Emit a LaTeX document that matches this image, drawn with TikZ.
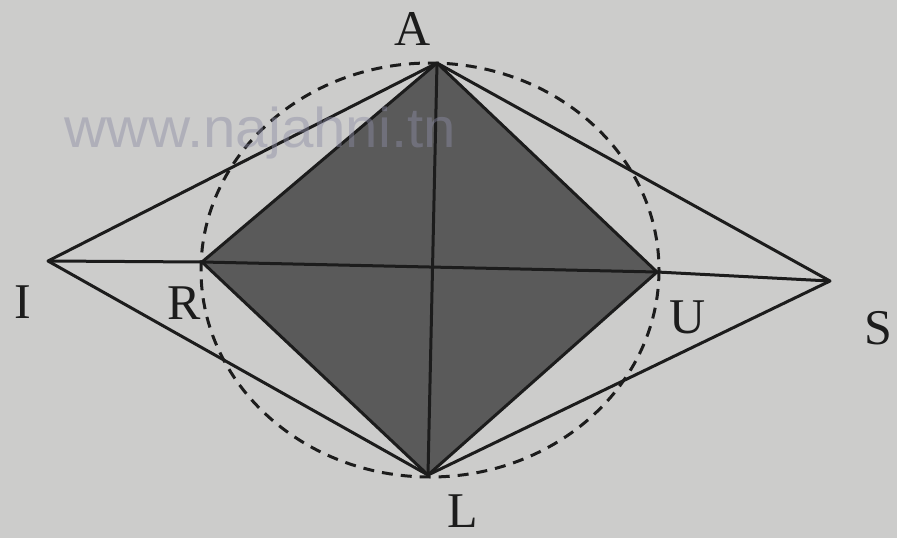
\documentclass[tikz,border=0pt]{standalone}
\usepackage{fontspec}
\setmainfont{Liberation Serif}
\newfontfamily\wmfont{Liberation Sans}
\definecolor{bgc}{RGB}{204,204,203}
\definecolor{darkc}{RGB}{90,90,90}
\definecolor{inkc}{RGB}{28,28,28}
\definecolor{wmc}{RGB}{140,140,165}
\begin{document}
\begin{tikzpicture}[x=1pt,y=-1pt,
  edge/.style={draw=inkc,line width=3pt,line join=round},
  circ/.style={draw=inkc,line width=3pt,dash pattern=on 11pt off 8pt},
  lbl/.style={text=inkc,font=\fontsize{50}{50}\selectfont,inner sep=0pt}]
\fill[bgc] (0,0) rectangle (897,538);
\useasboundingbox (0,0) rectangle (897,538);
% points
\coordinate (A) at (437,63);
\coordinate (R) at (202,262);
\coordinate (U) at (657,272);
\coordinate (L) at (428,475);
\coordinate (I) at (48,261);
\coordinate (S) at (830,281);
% diamond
\fill[darkc] (A) -- (U) -- (L) -- (R) -- cycle;
% dashed circle
\draw[circ] (430,270) ellipse [x radius=229, y radius=207];
% edges
\draw[edge] (A) -- (U) -- (L) -- (R) -- cycle;
\draw[edge] (A) -- (L);
\draw[edge] (I) -- (R) -- (U) -- (S);
\draw[edge] (A) -- (I) -- (L);
\draw[edge] (A) -- (S) -- (L);
% watermark
\node[anchor=west,inner sep=0pt,text=wmc,opacity=0.45,font=\wmfont\fontsize{56}{56}\selectfont,xscale=1.04] (wm) at (64,133) {www.najahni.tn};
% labels
\node[lbl] (lA) at (413,29) {A};
\node[lbl] (lR) at (184,303) {R};
\node[lbl] (lU) at (688,317) {U};
\node[lbl] (lL) at (463,511) {L};
\node[lbl] (lI) at (23,302) {I};
\node[lbl] (lS) at (878,328) {S};
\end{tikzpicture}
\end{document}
